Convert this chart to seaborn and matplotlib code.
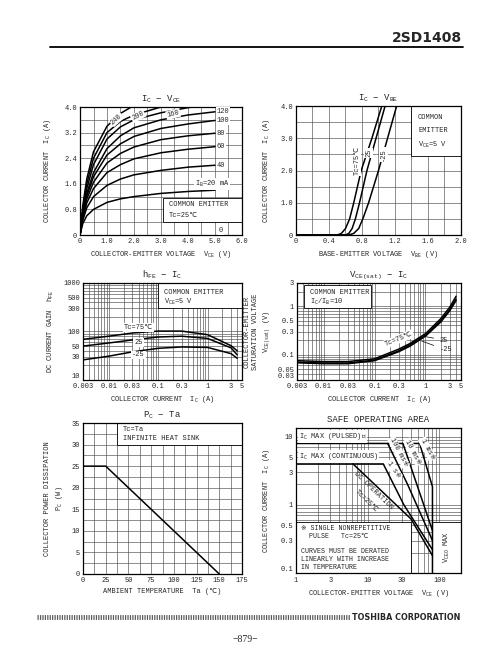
import numpy as np
import pandas as pd
import matplotlib
matplotlib.use("Agg")
import matplotlib.pyplot as plt
from matplotlib.patches import Rectangle
from matplotlib.lines import Line2D
from matplotlib.ticker import LogLocator, NullFormatter, MultipleLocator
import seaborn as sns

# ---- data ----
# Ic - Vce (Tc=25C), one list per base current
vce = [0, 0.1, 0.25, 0.5, 1.0, 1.5, 2.0, 3.0, 4.0, 5.0]
ib_ma = [20, 40, 60, 80, 100, 120, 160, 200, 240]
ic_ib20 = [0, 0.35, 0.6, 0.8, 1.02, 1.13, 1.2, 1.3, 1.36, 1.4]
ic_ib40 = [0, 0.45, 0.85, 1.2, 1.55, 1.75, 1.88, 2.02, 2.12, 2.18]
ic_ib60 = [0, 0.5, 1.0, 1.45, 1.95, 2.2, 2.38, 2.57, 2.68, 2.76]
ic_ib80 = [0, 0.55, 1.12, 1.65, 2.25, 2.55, 2.75, 2.98, 3.1, 3.18]
ic_ib100 = [0, 0.6, 1.22, 1.82, 2.5, 2.85, 3.08, 3.33, 3.47, 3.58]
ic_ib120 = [0, 0.65, 1.3, 1.95, 2.7, 3.1, 3.35, 3.6, 3.75, 3.85]
ic_ib160 = [0, 0.72, 1.45, 2.2, 3.0, 3.38, 3.6, 3.82, 3.98, 4.1]
ic_ib200 = [0, 0.8, 1.6, 2.4, 3.2, 3.55, 3.75, 4.0, 4.15, 4.25]
ic_ib240 = [0, 0.9, 1.75, 2.6, 3.4, 3.8, 4.05, 4.3, 4.45, 4.55]

# Ic - Vbe (Vce=5V)
ic_vbe = [0, 0.05, 0.2, 0.5, 1.0, 2.0, 3.0, 4.0]
vbe_t75 = [0.5, 0.55, 0.6, 0.65, 0.7, 0.79, 0.92, 1.04]
vbe_t25 = [0.6, 0.64, 0.68, 0.72, 0.77, 0.86, 0.97, 1.08]
vbe_tm25 = [0.64, 0.7, 0.76, 0.81, 0.88, 1.0, 1.11, 1.22]

# hFE - Ic
ic_h = [0.003, 0.01, 0.03, 0.1, 0.3, 1, 3, 4]
hfe_t75 = [69, 80, 93, 102, 102, 86, 51, 40]
hfe_t25 = [50, 58, 67, 77, 80, 72, 46, 33]
hfe_tm25 = [26, 31, 38, 45, 48, 47, 35, 28]

# Vce(sat) - Ic  (Ic/Ib=10)
ic_s = [0.003, 0.01, 0.03, 0.1, 0.3, 0.5, 1, 2, 3, 4]
vsat_t75 = [0.075, 0.072, 0.072, 0.082, 0.13, 0.17, 0.27, 0.55, 0.95, 1.6]
vsat_t25 = [0.07, 0.067, 0.067, 0.077, 0.12, 0.16, 0.25, 0.5, 0.85, 1.4]
vsat_tm25 = [0.068, 0.065, 0.065, 0.075, 0.115, 0.15, 0.24, 0.47, 0.8, 1.3]

# Pc - Ta
ta = [0, 25, 150]
pc = [25, 25, 0]

# Safe operating area
soa_dc_v = [1, 6.25, 40, 80]
soa_dc_i = [4, 4, 0.625, 0.18]
soa_1s_v = [6.25, 16.5, 32, 80]
soa_1s_i = [4, 4, 1.0, 0.22]
soa_100ms_v = [1, 19, 36, 80]
soa_100ms_i = [8, 8, 2.0, 0.3]
soa_10ms_v = [19, 31, 80]
soa_10ms_i = [8, 8, 0.42]
soa_1ms_v = [31, 53, 80, 80]
soa_1ms_i = [8, 8, 1.85, 0.1]

# ---- style ----
sns.set_style("white")
plt.rcParams["font.family"] = ["Liberation Mono", "DejaVu Sans Mono", "DejaVu Sans", "Noto Sans CJK JP"]
plt.rcParams["mathtext.fontset"] = "custom"
plt.rcParams["mathtext.rm"] = "Liberation Mono"
plt.rcParams["font.size"] = 5

W, H = 489, 663
fig = plt.figure(figsize=(W / 100, H / 100), dpi=100)


def px_axes(l, t, r, b):
    return fig.add_axes([l / W, 1 - b / H, (r - l) / W, (b - t) / H])


def style(ax, title):
    ax.set_axisbelow(True)
    ax.grid(True, which="both", color="0.3", lw=0.45)
    ax.tick_params(which="both", length=0, labelsize=5, pad=2)
    for s in ax.spines.values():
        s.set_linewidth(0.9)
        s.set_color("k")
    ax.set_title(title, fontsize=6.5, pad=4)


def log_minor(axis):
    axis.set_minor_locator(LogLocator(base=10, subs=np.arange(1, 10), numticks=100))
    axis.set_minor_formatter(NullFormatter())


def lift_first_ylabel(ax):
    ax.get_yticklabels()[0].set_va("bottom")


def box(ax, x0, y0, x1, y1):
    ax.add_patch(Rectangle((x0, y0), x1 - x0, y1 - y0, transform=ax.transAxes,
                           fc="white", ec="k", lw=0.6, zorder=2))


wb = dict(fc="white", ec="none", pad=0.6)
CUR = dict(color="k", lw=1.1, estimator=None, sort=False, legend=False)

# ---- Ic - Vce ----
ax = px_axes(80, 107, 242, 235)
curves = [ic_ib20, ic_ib40, ic_ib60, ic_ib80, ic_ib100, ic_ib120, ic_ib160, ic_ib200, ic_ib240]
df = pd.DataFrame({"vce": vce * len(curves), "ic": sum(curves, []),
                   "ib": np.repeat(ib_ma, len(vce))})
sns.lineplot(data=df, x="vce", y="ic", units="ib", ax=ax, zorder=3, **CUR)
ax.set_xlim(0, 6)
ax.set_ylim(0, 4)
ax.set_xticks([0, 1, 2, 3, 4, 5, 6], ["0", "1.0", "2.0", "3.0", "4.0", "5.0", "6.0"])
ax.set_yticks([0, 0.8, 1.6, 2.4, 3.2, 4.0], ["0", "0.8", "1.6", "2.4", "3.2", "4.0"])
ax.xaxis.set_minor_locator(MultipleLocator(0.5))
ax.yaxis.set_minor_locator(MultipleLocator(0.4))
style(ax, r"I$_{\mathrm{C}}$ − V$_{\mathrm{CE}}$")
ax.set_xlabel(r"COLLECTOR-EMITTER VOLTAGE  V$_{\mathrm{CE}}$ (V)", labelpad=3)
ax.set_ylabel(r"COLLECTOR CURRENT  I$_{\mathrm{C}}$ (A)", labelpad=8)
for ib, c in zip(ib_ma[1:6], curves[1:6]):
    ax.text(5.07, c[-1], str(ib), va="center", ha="left", zorder=4, bbox=wb)
ax.text(5.15, 0.15, "0", va="center", ha="left", zorder=4, bbox=wb)
ax.text(4.25, 1.6, r"I$_{\mathrm{B}}$=20 mA", va="center", ha="left", zorder=4, bbox=wb)
for lab, x, y, r in [("240", 1.35, 3.62, 42), ("200", 2.15, 3.72, 28), ("160", 3.45, 3.78, 14)]:
    ax.text(x, y, lab, rotation=r, ha="center", va="center", zorder=4, bbox=wb)
box(ax, 0.51, 0.105, 1.0, 0.29)
ax.text(0.55, 0.235, "COMMON EMITTER", transform=ax.transAxes, va="center", zorder=4)
ax.text(0.55, 0.15, "Tc=25℃", transform=ax.transAxes, va="center", zorder=4)

# ---- Ic - Vbe ----
ax = px_axes(296, 106, 461, 235)
for v in [vbe_t75, vbe_t25, vbe_tm25]:
    sns.lineplot(x=[0] + v, y=[0] + ic_vbe, ax=ax, zorder=3, **CUR)
ax.set_xlim(0, 2)
ax.set_ylim(0, 4)
ax.set_xticks([0, 0.4, 0.8, 1.2, 1.6, 2.0], ["0", "0.4", "0.8", "1.2", "1.6", "2.0"])
ax.set_yticks([0, 1, 2, 3, 4], ["0", "1.0", "2.0", "3.0", "4.0"])
ax.xaxis.set_minor_locator(MultipleLocator(0.2))
ax.yaxis.set_minor_locator(MultipleLocator(0.5))
style(ax, r"I$_{\mathrm{C}}$ − V$_{\mathrm{BE}}$")
ax.set_xlabel(r"BASE-EMITTER VOLTAGE  V$_{\mathrm{BE}}$ (V)", labelpad=3)
ax.set_ylabel(r"COLLECTOR CURRENT  I$_{\mathrm{C}}$ (A)", labelpad=6)
ax.text(0.74, 2.3, "Tc=75℃", rotation=90, ha="center", va="center", zorder=4, bbox=wb)
ax.text(0.88, 2.55, "25", rotation=90, ha="center", va="center", zorder=4, bbox=wb)
ax.text(1.06, 2.5, "-25", rotation=90, ha="center", va="center", zorder=4, bbox=wb)
box(ax, 0.70, 0.61, 1.0, 1.0)
ax.text(0.74, 0.91, "COMMON", transform=ax.transAxes, va="center", zorder=4)
ax.text(0.74, 0.81, "EMITTER", transform=ax.transAxes, va="center", zorder=4)
ax.text(0.74, 0.70, r"V$_{\mathrm{CE}}$=5 V", transform=ax.transAxes, va="center", zorder=4)

# ---- hFE - Ic ----
ax = px_axes(83, 283, 242, 380)
for h in [hfe_t75, hfe_t25, hfe_tm25]:
    sns.lineplot(x=ic_h, y=h, ax=ax, zorder=3, **CUR)
ax.set_xscale("log")
ax.set_yscale("log")
ax.set_xlim(0.003, 5)
ax.set_ylim(10, 1000)
log_minor(ax.xaxis)
log_minor(ax.yaxis)
ax.set_xticks([0.003, 0.01, 0.03, 0.1, 0.3, 1, 3, 5], ["0.003", "0.01", "0.03", "0.1", "0.3", "1", "3", "5"])
ax.set_yticks([10, 30, 50, 100, 300, 500, 1000], ["10", "30", "50", "100", "300", "500", "1000"])
style(ax, r"h$_{\mathrm{FE}}$ − I$_{\mathrm{C}}$")
ax.tick_params(axis="x", pad=2.5)
lift_first_ylabel(ax)
ax.set_xlabel(r"COLLECTOR CURRENT  I$_{\mathrm{C}}$ (A)", labelpad=2.5)
ax.set_ylabel(r"DC CURRENT GAIN  h$_{\mathrm{FE}}$", labelpad=5)
ax.text(0.04, 122, "Tc=75℃", ha="center", va="center", zorder=4, bbox=wb)
ax.text(0.04, 60, "25", ha="center", va="center", zorder=4, bbox=wb)
ax.text(0.04, 33, "-25", ha="center", va="center", zorder=4, bbox=wb)
box(ax, 0.47, 0.74, 1.0, 1.0)
ax.text(0.51, 0.9, "COMMON EMITTER", transform=ax.transAxes, va="center", zorder=4)
ax.text(0.51, 0.8, r"V$_{\mathrm{CE}}$=5 V", transform=ax.transAxes, va="center", zorder=4)

# ---- Vce(sat) - Ic ----
ax = px_axes(297, 283, 461, 380)
for v in [vsat_t75, vsat_t25, vsat_tm25]:
    sns.lineplot(x=ic_s, y=v, ax=ax, zorder=3, **CUR)
ax.set_xscale("log")
ax.set_yscale("log")
ax.set_xlim(0.003, 5)
ax.set_ylim(0.03, 3)
log_minor(ax.xaxis)
log_minor(ax.yaxis)
ax.set_xticks([0.003, 0.01, 0.03, 0.1, 0.3, 1, 3, 5], ["0.003", "0.01", "0.03", "0.1", "0.3", "1", "3", "5"])
ax.set_yticks([0.03, 0.05, 0.1, 0.3, 0.5, 1, 3], ["0.03", "0.05", "0.1", "0.3", "0.5", "1", "3"])
style(ax, r"V$_{\mathrm{CE(sat)}}$ − I$_{\mathrm{C}}$")
ax.tick_params(axis="x", pad=2.5)
lift_first_ylabel(ax)
ax.set_xlabel(r"COLLECTOR CURRENT  I$_{\mathrm{C}}$ (A)", labelpad=2.5)
ax.set_ylabel("COLLECTOR-EMITTER\nSATURATION VOLTAGE\n" + r"V$_{\mathrm{CE(sat)}}$ (V)", labelpad=4, linespacing=1.3)
ax.text(0.3, 0.21, "Tc=75℃", rotation=22, ha="center", va="center", zorder=4, bbox=wb)
ax.annotate("25", xy=(0.9, 0.24), xytext=(1.9, 0.2), ha="left", va="center", zorder=4,
            arrowprops=dict(arrowstyle="-", lw=0.5, color="k"))
ax.annotate("-25", xy=(0.75, 0.2), xytext=(1.9, 0.125), ha="left", va="center", zorder=4,
            arrowprops=dict(arrowstyle="-", lw=0.5, color="k"))
box(ax, 0.04, 0.74, 0.45, 0.98)
ax.text(0.08, 0.9, "COMMON EMITTER", transform=ax.transAxes, va="center", zorder=4)
ax.text(0.08, 0.8, r"I$_{\mathrm{C}}$/I$_{\mathrm{B}}$=10", transform=ax.transAxes, va="center", zorder=4)

# ---- Pc - Ta ----
ax = px_axes(83, 423, 242, 574)
sns.lineplot(x=ta, y=pc, ax=ax, zorder=3, **CUR)
ax.set_xlim(0, 175)
ax.set_ylim(0, 35)
ax.set_xticks(range(0, 176, 25))
ax.set_yticks(range(0, 36, 5))
ax.xaxis.set_minor_locator(MultipleLocator(12.5))
ax.yaxis.set_minor_locator(MultipleLocator(2.5))
style(ax, r"P$_{\mathrm{C}}$ − Ta")
ax.set_xlabel("AMBIENT TEMPERATURE  Ta (℃)", labelpad=3)
ax.set_ylabel("COLLECTOR POWER DISSIPATION\n" + r"P$_{\mathrm{C}}$ (W)", labelpad=5, linespacing=1.4)
box(ax, 37.5 / 175, 30 / 35, 1.0, 1.0)
ax.text(0.25, 0.96, "Tc=Ta", transform=ax.transAxes, va="center", zorder=4)
ax.text(0.25, 0.9, "INFINITE HEAT SINK", transform=ax.transAxes, va="center", zorder=4)

# ---- Safe operating area ----
ax = px_axes(296, 428, 461, 573)
for v, i in [(soa_dc_v, soa_dc_i), (soa_1s_v, soa_1s_i), (soa_100ms_v, soa_100ms_i),
             (soa_10ms_v, soa_10ms_i), (soa_1ms_v, soa_1ms_i)]:
    sns.lineplot(x=v, y=i, ax=ax, zorder=3, **CUR)
ax.set_xscale("log")
ax.set_yscale("log")
ax.set_xlim(1, 200)
ax.set_ylim(0.1, 13.5)
log_minor(ax.xaxis)
log_minor(ax.yaxis)
ax.set_xticks([1, 3, 10, 30, 100], ["1", "3", "10", "30", "100"])
ax.set_yticks([0.1, 0.3, 0.5, 1, 3, 5, 10], ["0.1", "0.3", "0.5", "1", "3", "5", "10"])
style(ax, "SAFE OPERATING AREA")
ax.tick_params(axis="x", pad=3)
lift_first_ylabel(ax)
ax.set_xlabel(r"COLLECTOR-EMITTER VOLTAGE  V$_{\mathrm{CE}}$ (V)", labelpad=3)
ax.set_ylabel(r"COLLECTOR CURRENT  I$_{\mathrm{C}}$ (A)", labelpad=6)
ax.text(1.1, 10.2, r"I$_{\mathrm{C}}$ MAX (PULSED)※", va="center", zorder=4, bbox=wb)
ax.text(1.1, 5.1, r"I$_{\mathrm{C}}$ MAX (CONTINUOUS)", va="center", zorder=4, bbox=wb)
ax.text(12, 1.6, "DC OPERATION", rotation=-44, ha="center", va="center", zorder=4)
ax.text(9.5, 1.15, "Tc=25℃", rotation=-44, ha="center", va="center", zorder=4)
ax.text(23, 3.3, "1 s※", rotation=-55, ha="center", va="center", zorder=4, bbox=wb)
ax.text(27, 6.0, "100 ms※", rotation=-62, ha="center", va="center", zorder=4, bbox=wb)
ax.text(43, 6.0, "10 ms※", rotation=-62, ha="center", va="center", zorder=4, bbox=wb)
ax.text(68, 6.6, "1 ms※", rotation=-62, ha="center", va="center", zorder=4, bbox=wb)
box(ax, 0.0, 0.0, 0.70, 0.355)
notes = ["※ SINGLE NONREPETITIVE", "  PULSE   Tc=25℃", "",
         "CURVES MUST BE DERATED", "LINEARLY WITH INCREASE", "IN TEMPERATURE"]
for k, line in enumerate(notes):
    ax.text(0.03, 0.31 - k * 0.055, line, transform=ax.transAxes, va="center", zorder=4, fontsize=4.8)
box(ax, 0.827, 0.0, 1.0, 0.355)
ax.text(0.915, 0.18, r"V$_{\mathrm{CEO}}$ MAX", rotation=90, transform=ax.transAxes,
        ha="center", va="center", zorder=4)

# ---- page header / footer ----
fig.text(462 / W, 1 - 38 / H, "2SD1408", ha="right", va="center",
         family="DejaVu Sans", weight="bold", fontsize=10)
fig.add_artist(Line2D([50 / W, 463 / W], [1 - 47 / H] * 2, color="k", lw=1.3))
fig.add_artist(Line2D([37 / W, 350 / W], [1 - 617 / H] * 2, color="0.35", lw=3.5, dashes=(0.25, 0.25)))
fig.text(460 / W, 1 - 617 / H, "TOSHIBA CORPORATION", ha="right", va="center",
         family="DejaVu Sans", weight="bold", fontsize=5.8)
fig.text(245 / W, 1 - 640 / H, "−879−", ha="center", va="center",
         family="Liberation Serif", fontsize=7)

fig.savefig("out.png", dpi=100)
